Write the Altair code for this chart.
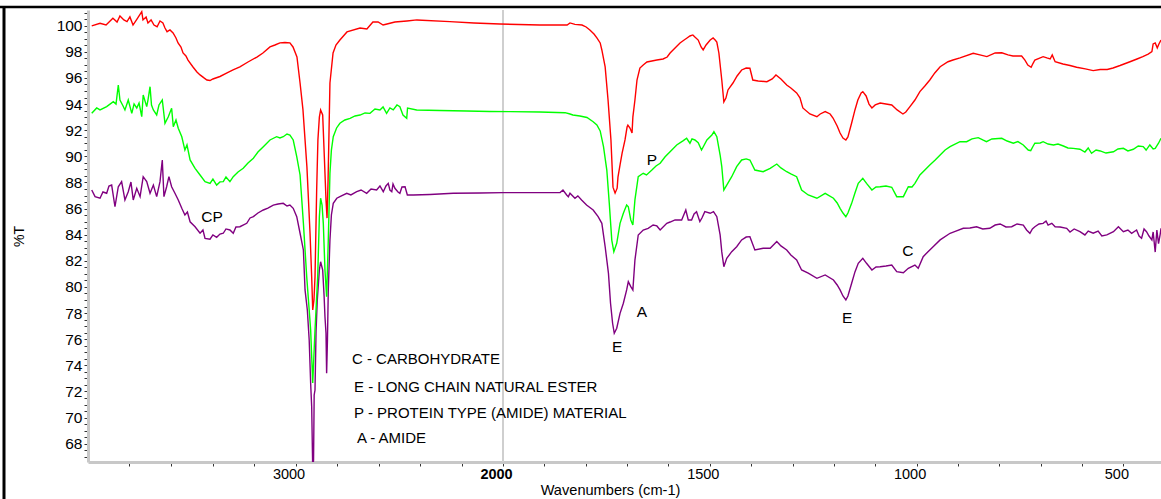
import altair as alt
import pandas as pd

# (wavenumber cm-1, %T)
red = [
(3982,99.98),(3942,100.18),(3913,100.05),(3880,100.57),(3860,100.28),(3846,100.74),(3827,100.44),(3812,100.31),(3798,100.67),(3783,100.05),
(3764,100.51),(3741,101.07),(3735,100.44),(3720,100.67),(3711,100.21),(3696,100.44),(3682,100.05),(3667,99.92),(3653,100.36),(3639,100.21),
(3629,99.82),(3619,99.54),(3605,99.67),(3590,99.44),(3576,99.06),(3566,98.68),(3552,98.37),(3542,97.91),(3528,97.68),(3518,97.37),
(3494,96.84),(3475,96.46),(3460,96.23),(3441,96.0),(3427,95.84),(3412,95.8),(3398,95.92),(3364,96.11),(3330,96.38),(3301,96.61),
(3268,96.84),(3229,97.22),(3186,97.6),(3157,97.91),(3123,98.37),(3099,98.52),(3075,98.68),(3051,98.71),(3027,98.68),(3012,98.37),
(2993,97.6),(2978,95.61),(2964,93.55),(2945,89.19),(2930,84.13),(2922,80.76),(2917,78.24),(2911,79.0),(2906,80.76),(2898,87.42),
(2892,91.25),(2885,93.0),(2879,93.55),(2869,93.17),(2861,89.95),(2853,86.66),(2848,85.27),(2843,88.19),(2834,95.61),(2819,97.91),
(2805,98.52),(2786,98.9),(2752,99.52),(2689,99.82),(2656,99.75),(2627,100.28),(2602,100.28),(2578,100.05),(2559,100.13),(2521,100.28),
(2463,100.36),(2415,100.44),(2256,100.31),(2140,100.21),(2015,100.13),(1911,100.05),(1845,100.05),(1838,100.21),(1826,100.1),(1809,100.05),
(1799,99.9),(1790,99.67),(1780,99.36),(1773,99.06),(1765,98.68),(1761,98.14),(1753,96.84),(1746,94.31),(1739,91.25),(1734,87.64),
(1729,87.18),(1724,87.56),(1722,88.41),(1717,89.34),(1712,90.25),(1705,91.25),(1700,92.24),(1698,92.39),(1693,92.16),(1688,91.78),
(1686,93.0),(1681,94.31),(1676,95.84),(1669,96.76),(1661,96.99),(1652,97.22),(1640,97.3),(1628,97.37),(1613,97.45),(1603,97.6),
(1596,97.91),(1584,98.29),(1572,98.68),(1562,98.9),(1555,99.06),(1548,99.21),(1541,99.29),(1536,99.13),(1528,98.9),(1521,98.37),
(1516,98.14),(1509,98.52),(1499,98.9),(1492,99.06),(1487,98.9),(1483,98.75),(1478,97.91),(1471,95.84),(1466,94.16),(1461,94.46),
(1456,95.08),(1444,95.61),(1434,96.15),(1423,96.61),(1412,96.76),(1403,96.74),(1396,95.84),(1383,95.77),(1362,95.71),(1349,95.92),
(1340,96.23),(1328,95.92),(1314,95.46),(1304,95.23),(1290,94.85),(1282,94.47),(1275,93.7),(1258,93.24),(1241,93.03),(1233,93.24),
(1221,93.42),(1209,93.24),(1202,92.93),(1192,92.32),(1185,91.78),(1178,91.4),(1171,91.25),(1166,91.48),(1157,92.55),(1149,93.55),
(1142,94.31),(1134,94.85),(1130,94.95),(1122,94.62),(1115,94.0),(1108,93.7),(1100,93.93),(1088,94.08),(1074,94.0),(1060,93.93),
(1047,93.55),(1033,93.24),(1026,93.39),(1016,93.8),(1004,94.31),(992,94.95),(980,95.38),(968,95.84),(956,96.38),(943,96.86),
(924,97.24),(912,97.37),(895,97.53),(863,97.89),(847,97.76),(830,97.63),(810,97.91),(794,97.93),(779,97.76),(767,97.68),
(746,97.68),(738,97.37),(731,96.99),(723,96.82),(718,97.14),(714,97.37),(694,97.63),(685,97.53),(677,97.45),(672,97.76),
(665,97.24),(646,97.07),(629,96.95),(613,96.82),(592,96.69),(573,96.56),(556,96.65),(539,96.65),(525,96.76),(508,96.95),
(484,97.24),(467,97.45),(453,97.63),(440,97.83),(431,98.01),(428,98.6),(423,98.68),(418,98.3),(414,98.6),(409,98.9)]

green = [
(3982,93.29),(3958,93.70),(3942,93.55),(3910,93.80),(3878,94.18),(3865,94.00),(3854,95.46),(3846,94.31),(3831,93.85),(3822,93.55),
(3806,94.31),(3789,93.29),(3778,94.01),(3765,93.70),(3754,94.08),(3741,93.03),(3734,94.69),(3717,93.80),(3711,94.31),(3701,95.33),
(3694,93.93),(3685,93.55),(3669,93.17),(3658,93.93),(3642,94.31),(3629,92.53),(3613,93.03),(3597,93.68),(3589,92.27),(3576,92.78),
(3565,92.15),(3548,91.50),(3533,90.48),(3523,90.87),(3508,89.72),(3484,89.08),(3460,88.57),(3436,88.06),(3412,87.93),(3398,88.26),
(3380,87.80),(3364,88.04),(3348,88.06),(3335,88.42),(3316,88.06),(3300,88.44),(3277,88.80),(3252,89.08),(3229,89.49),(3203,89.85),
(3181,90.33),(3155,90.74),(3123,91.25),(3091,91.50),(3075,91.40),(3059,91.50),(3041,91.71),(3027,91.63),(3011,91.25),(2994,89.97),
(2978,88.57),(2962,84.90),(2946,80.79),(2934,78.24),(2927,76.71),(2917,72.65),(2906,76.71),(2893,80.79),(2885,85.38),(2879,86.79),
(2872,86.27),(2866,84.87),(2858,81.30),(2850,79.25),(2842,83.60),(2834,88.70),(2827,90.48),(2818,91.50),(2802,92.17),(2786,92.53),
(2762,92.78),(2737,92.91),(2713,93.09),(2689,93.16),(2665,93.32),(2641,93.29),(2617,93.62),(2593,93.55),(2578,93.78),(2561,93.29),
(2545,93.70),(2529,93.55),(2511,93.93),(2497,93.80),(2482,93.16),(2464,92.91),(2460,93.70),(2416,93.55),(2304,93.51),(2175,93.47),
(2063,93.43),(1983,93.42),(1911,93.39),(1850,93.34),(1838,93.24),(1831,93.16),(1814,93.09),(1797,92.97),(1782,92.65),(1773,92.40),
(1765,91.94),(1757,90.74),(1749,88.95),(1743,86.40),(1737,83.59),(1732,82.70),(1725,83.34),(1717,84.87),(1709,85.64),(1701,86.27),
(1697,86.14),(1691,85.13),(1686,84.74),(1681,86.66),(1673,88.44),(1661,88.70),(1653,88.57),(1640,88.95),(1630,89.26),(1620,89.47),
(1608,89.97),(1596,90.35),(1580,90.87),(1564,91.20),(1556,91.38),(1548,91.00),(1543,91.33),(1536,91.25),(1528,91.04),(1520,90.48),
(1516,90.71),(1507,91.25),(1495,91.63),(1490,91.89),(1483,91.50),(1475,90.10),(1471,89.21),(1466,87.42),(1459,87.80),(1447,88.44),
(1435,89.21),(1423,89.72),(1412,89.80),(1403,89.72),(1391,88.95),(1371,88.82),(1354,89.08),(1338,89.41),(1328,89.11),(1314,88.82),
(1304,88.65),(1290,88.44),(1278,87.42),(1262,87.04),(1241,86.79),(1221,87.17),(1201,86.79),(1192,86.43),(1185,86.02),(1178,85.66),
(1171,85.38),(1166,85.66),(1157,86.40),(1149,87.19),(1141,87.93),(1130,88.32),(1121,87.93),(1108,87.42),(1098,87.65),(1088,87.67),
(1074,87.73),(1060,87.63),(1048,86.91),(1032,86.91),(1020,87.67),(1011,87.65),(1004,87.93),(992,88.57),(980,88.95),(968,89.34),
(955,89.72),(943,90.10),(931,90.48),(919,90.74),(895,91.12),(879,91.12),(866,91.33),(851,91.43),(840,91.25),(831,91.12),
(818,91.33),(794,91.38),(781,91.17),(766,91.00),(755,91.13),(742,90.87),(730,90.48),(724,90.43),(718,90.79),(714,91.00),
(701,91.02),(694,91.12),(682,90.94),(669,90.87),(658,90.94),(645,90.79),(634,90.64),(621,90.61),(605,90.54),(593,90.33),
(585,90.64),(577,90.23),(566,90.48),(556,90.41),(542,90.25),(524,90.35),(513,90.56),(500,90.61),(489,90.41),(476,90.54),
(464,90.79),(452,90.74),(445,90.48),(436,90.87),(428,90.56),(423,90.61),(415,91.00),(409,91.38)]

purple = [
(3982,87.42),(3966,86.91),(3942,86.79),(3928,87.27),(3910,87.17),(3899,87.73),(3886,87.80),(3870,86.14),(3854,87.67),(3838,88.06),
(3822,86.66),(3806,87.29),(3793,88.03),(3782,86.66),(3765,87.55),(3749,86.91),(3734,88.44),(3717,88.06),(3701,87.17),(3685,87.80),
(3669,86.91),(3653,88.06),(3642,89.72),(3634,86.91),(3621,87.67),(3610,88.44),(3597,87.67),(3581,87.17),(3565,86.66),(3548,86.02),
(3533,85.51),(3521,85.74),(3508,84.99),(3484,84.61),(3460,84.11),(3446,84.36),(3436,83.72),(3412,83.65),(3398,83.98),(3380,83.80),
(3364,84.05),(3348,84.11),(3335,84.44),(3316,84.36),(3300,84.11),(3287,84.59),(3268,84.61),(3235,84.87),(3219,85.28),(3203,85.38),
(3181,85.66),(3155,85.89),(3133,86.04),(3107,86.27),(3084,86.35),(3059,86.40),(3041,86.20),(3027,86.27),(3011,86.02),(2994,85.38),
(2978,84.11),(2962,82.83),(2954,79.77),(2943,78.24),(2934,75.94),(2927,72.63),(2922,70.83),(2917,65.99),(2913,66.75),(2910,71.73),(2906,72.11),
(2901,76.57),(2895,79.00),(2885,81.30),(2879,81.93),(2869,81.30),(2862,79.25),(2858,77.72),(2853,76.45),(2850,73.39),(2846,75.94),
(2842,79.77),(2834,83.60),(2827,85.51),(2818,86.40),(2801,86.79),(2786,86.91),(2753,87.17),(2733,87.04),(2705,87.29),(2684,87.42),
(2657,87.17),(2636,87.50),(2609,87.42),(2593,87.73),(2577,87.29),(2564,87.73),(2553,87.93),(2545,87.42),(2536,87.29),(2530,87.88),
(2521,87.55),(2506,87.27),(2497,87.17),(2487,87.65),(2472,87.67),(2461,87.04),(2432,87.04),(2352,87.08),(2240,87.17),(2111,87.19),
(1999,87.22),(1935,87.22),(1862,87.22),(1855,87.42),(1846,87.04),(1842,86.91),(1838,87.17),(1826,86.79),(1819,86.97),(1810,86.66),
(1798,86.27),(1782,85.89),(1770,85.38),(1761,84.87),(1753,83.08),(1745,81.04),(1740,78.75),(1735,77.22),(1731,76.45),(1725,76.84),
(1717,77.98),(1709,78.75),(1701,79.77),(1697,80.40),(1691,80.02),(1686,79.77),(1681,82.06),(1673,83.98),(1661,84.36),(1649,84.49),
(1637,84.74),(1628,84.67),(1620,84.36),(1604,84.87),(1596,84.97),(1584,85.13),(1568,85.13),(1558,85.89),(1552,85.13),(1544,85.13),
(1538,85.59),(1532,85.76),(1524,85.00),(1519,85.28),(1512,85.76),(1499,85.64),(1491,85.76),(1483,85.38),(1475,83.98),(1471,82.68),
(1466,81.55),(1459,82.19),(1447,82.70),(1435,83.08),(1423,83.60),(1412,83.82),(1403,83.85),(1391,82.83),(1371,82.96),(1354,82.96),
(1338,83.47),(1328,83.14),(1314,82.83),(1304,82.45),(1290,82.07),(1278,81.30),(1262,81.05),(1241,80.66),(1221,80.92),(1201,80.53),
(1192,80.15),(1185,79.77),(1178,79.31),(1171,79.00),(1166,79.31),(1157,80.28),(1149,81.15),(1141,81.81),(1130,82.19),(1121,81.81),
(1108,81.30),(1098,81.53),(1088,81.55),(1074,81.60),(1060,81.68),(1048,81.17),(1032,81.09),(1020,81.43),(1004,81.68),(996,81.43),
(984,82.32),(973,82.68),(960,83.08),(943,83.60),(919,84.11),(905,84.28),(887,84.49),(871,84.51),(855,84.61),(840,84.44),
(823,84.49),(810,84.74),(798,84.82),(784,84.59),(770,84.61),(757,84.82),(742,84.74),(734,84.36),(726,84.11),(720,84.44),
(714,84.61),(704,84.82),(694,84.87),(687,85.05),(682,84.74),(673,84.87),(665,84.61),(653,84.59),(637,84.49),(629,84.21),
(619,84.44),(605,84.23),(593,83.98),(585,84.28),(573,84.11),(561,84.28),(552,83.90),(540,83.98),(524,84.23),(512,84.61),
(500,84.23),(489,84.36),(480,84.11),(468,84.36),(462,83.90),(456,83.73),(450,84.44),(444,84.23),(438,83.90),(431,83.60),
(428,84.21),(423,82.67),(419,84.36),(415,83.31),(411,84.03),(409,84.49)]

# peak annotations
ann_text = ["CP", "P", "A", "E", "E", "C"]
ann_wn = [3402, 1640, 1664, 1724, 1168, 1021]
ann_t = [85.35, 89.7, 78.08, 75.4, 77.62, 82.75]

# key notes
note_text = ["C - CARBOHYDRATE", "E - LONG CHAIN NATURAL ESTER",
             "P - PROTEIN TYPE (AMIDE) MATERIAL", "A - AMIDE"]
note_wn = [2728, 2718, 2718, 2704]
note_t = [74.49, 72.34, 70.35, 68.44]

x_tick_values = [3800, 3600, 3400, 3200, 3000, 2800, 2600, 2400, 2200, 2000,
                 1900, 1800, 1700, 1600, 1500, 1400, 1300, 1200, 1100, 1000,
                 900, 800, 700, 600, 500]
x_label_values = [3000, 2000, 1500, 1000, 500]
y_tick_values = [67 + 0.5 * i for i in range(69)]

W, H = 1073, 452
FONT = "Liberation Sans"


def frame(pairs):
    return pd.DataFrame({"wn": [p[0] for p in pairs], "t": [p[1] for p in pairs]})


x_scale = alt.Scale(domain=[4000, 2000, 409], range=[0, 415, W], nice=False, zero=False)
y_scale = alt.Scale(domain=[66.6, 101.2], nice=False, zero=False)

x_axis = alt.Axis(
    values=x_tick_values,
    labelExpr="indexof(%s, datum.value) >= 0 ? format(datum.value, 'd') : ''" % str(x_label_values),
    grid=False, domainColor="#c8c8c8", domainWidth=3, tickColor="#333333",
    tickSize=4, tickWidth=1, labelFont=FONT, labelFontSize=14.5, labelColor="black",
    labelPadding=1, labelOffset=-7, labelOverlap=False, labelFlush=False, labelBound=False,
    labelFontWeight={"condition": {"test": "datum.value == 2000", "value": "bold"}, "value": "normal"},
    title="Wavenumbers (cm-1)", titleFont=FONT, titleFontSize=14.6, titleFontWeight="normal",
    titleColor="black", titleX=522, titleY=28, titleBaseline="middle", titleAlign="center",
)
y_axis = alt.Axis(
    values=y_tick_values,
    labelExpr="datum.value % 2 == 0 ? format(datum.value, 'd') : ''",
    grid=False, domainColor="#c8c8c8", domainWidth=3, tickColor="#333333",
    tickSize=4, tickWidth=1, labelFont=FONT, labelFontSize=15.5, labelColor="black",
    labelPadding=2, labelOverlap=False, labelFlush=False, labelBound=False,
    title="%T", titleFont=FONT, titleFontSize=14, titleFontWeight="normal",
    titleColor="black", titleX=-69, titleY=226, titleAngle=270,
    titleBaseline="middle", titleAlign="center",
)

X = alt.X("wn:Q", scale=x_scale, axis=x_axis)
Y = alt.Y("t:Q", scale=y_scale, axis=y_axis)


def line(pairs, color):
    return alt.Chart(frame(pairs)).mark_line(color=color, strokeWidth=1.4, clip=True).encode(
        x=X, y=Y, order="wn:Q"
    )


vline = alt.Chart(pd.DataFrame({"wn": [2000]})).mark_rule(color="#cfcfcf", strokeWidth=2).encode(x=X)

ann = alt.Chart(pd.DataFrame({"wn": ann_wn, "t": ann_t, "txt": ann_text})).mark_text(
    font=FONT, fontSize=15.5, color="black", align="center", baseline="middle"
).encode(x=X, y=Y, text="txt:N")

notes = alt.Chart(pd.DataFrame({"wn": note_wn, "t": note_t, "txt": note_text})).mark_text(
    font=FONT, fontSize=15, color="black", align="left", baseline="middle"
).encode(x=X, y=Y, text="txt:N")

one = pd.DataFrame({"a": [0]})
border_top = alt.Chart(one).mark_rule(color="black", strokeWidth=2.5).encode(
    x=alt.value(-88), x2=alt.value(W), y=alt.value(-3)
)
border_left = alt.Chart(one).mark_rule(color="black", strokeWidth=3).encode(
    x=alt.value(-84), y=alt.value(-3), y2=alt.value(H + 40)
)

chart = alt.layer(
    vline,
    line(purple, "#800080"),
    line(green, "#00ff00"),
    line(red, "#ff0000"),
    ann, notes, border_top, border_left,
).properties(
    width=W, height=H,
    padding={"left": 88, "top": 10, "right": 0, "bottom": 37},
    autosize=alt.AutoSizeParams(type="none"),
    background="white",
).configure_view(stroke=None)

chart.save("out.html", embed_options={"renderer": "svg", "actions": False})
